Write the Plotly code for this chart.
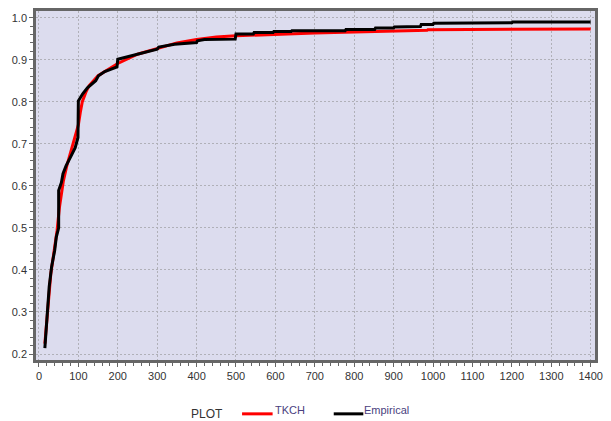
import plotly.graph_objects as go

# Empirical CDF (black, step-like)
emp_x = [15, 17.5, 21, 23, 26, 32, 40, 44, 50, 50, 57, 61, 69, 82, 92, 99, 100, 111, 123,
         144, 151, 167, 198, 200, 233, 260, 300, 304, 344, 400, 402, 420, 498, 500, 544,
         546, 594, 596, 640, 642, 777, 779, 852, 854, 900, 902, 968, 970, 1000, 1002, 1050,
         1052, 1200, 1202, 1400]
emp_y = [0.214, 0.25, 0.28, 0.328, 0.36, 0.407, 0.447, 0.478, 0.50, 0.589, 0.608, 0.629,
         0.648, 0.672, 0.691, 0.715, 0.802, 0.819, 0.833, 0.85, 0.862, 0.872, 0.883, 0.901,
         0.909, 0.917, 0.925, 0.93, 0.937, 0.941, 0.945, 0.948, 0.949, 0.961, 0.961,
         0.9645, 0.9645, 0.967, 0.967, 0.969, 0.969, 0.972, 0.972, 0.9755, 0.9755, 0.978,
         0.979, 0.984, 0.984, 0.987, 0.987, 0.988, 0.988, 0.990, 0.990]

# TKCH fitted CDF (red)
tkch_x = [15, 20, 25, 30, 40, 46, 52, 57, 62, 70, 82, 90, 100, 105, 110, 120, 127, 150,
          175, 200, 250, 300, 350, 400, 450, 500, 600, 700, 800, 900, 985, 987, 1177, 1179, 1400]
tkch_y = [0.225, 0.28, 0.34, 0.39, 0.455, 0.494, 0.549, 0.585, 0.612, 0.645, 0.684, 0.708,
          0.745, 0.775, 0.80, 0.825, 0.838, 0.862, 0.877, 0.891, 0.913, 0.926, 0.940, 0.948,
          0.954, 0.957, 0.961, 0.9635, 0.966, 0.968, 0.970, 0.9716, 0.9716, 0.973, 0.973]

x_ticks = list(range(0, 1401, 100))
y_ticks = [0.2, 0.3, 0.4, 0.5, 0.6, 0.7, 0.8, 0.9, 1.0]

W, H = 611, 421
ML, MR, MT, MB = 36, 8, 10, 61
PW, PH = W - ML - MR, H - MT - MB


def px(xp):
    return (xp - ML) / PW


def py(yp):
    return (H - MB - yp) / PH


fig = go.Figure()
fig.add_trace(go.Scatter(x=tkch_x, y=tkch_y, mode="lines", name="TKCH",
                         line=dict(color="#ff0000", width=3)))
fig.add_trace(go.Scatter(x=emp_x, y=emp_y, mode="lines", name="Empirical",
                         line=dict(color="#000000", width=3)))

axis_common = dict(
    showline=True, linecolor="#666666", linewidth=2.5, mirror=True,
    ticks="outside", ticklen=4, tickcolor="#666666", tickwidth=1,
    showgrid=True, gridcolor="#b0b0b8", griddash="2px,2px", gridwidth=1,
    zeroline=False,
    tickfont=dict(family="Liberation Sans, Arial, sans-serif", size=11, color="#333333"),
)

fig.update_xaxes(range=[-7.5, 1411], tickmode="array", tickvals=x_ticks,
                 ticktext=[str(v) for v in x_ticks],
                 minor=dict(dtick=20, tick0=0, ticks="outside", ticklen=3,
                            tickcolor="#666666", showgrid=False),
                 **axis_common)
fig.update_yaxes(range=[0.1858, 1.0159], tickmode="array", tickvals=y_ticks,
                 ticktext=[f"{v:.1f}" for v in y_ticks],
                 minor=dict(dtick=0.02, tick0=0.2, ticks="outside", ticklen=3,
                            tickcolor="#666666", showgrid=False),
                 **axis_common)

# custom legend below the plot
legend_font = dict(family="Liberation Sans, Arial, sans-serif", size=11, color="#4a3f80")
fig.add_shape(type="line", xref="paper", yref="paper", x0=px(245), x1=px(276),
              y0=py(414), y1=py(414), line=dict(color="#ff0000", width=3))
fig.add_shape(type="line", xref="paper", yref="paper", x0=px(338), x1=px(368),
              y0=py(414), y1=py(414), line=dict(color="#000000", width=3))
fig.add_annotation(xref="paper", yref="paper", x=px(209.5), y=py(414), text="PLOT",
                   showarrow=False, xanchor="center", yanchor="middle",
                   font=dict(family="Liberation Sans, Arial, sans-serif", size=12, color="#333333"))
fig.add_annotation(xref="paper", yref="paper", x=px(276), y=py(410), text="TKCH",
                   showarrow=False, xanchor="left", yanchor="middle", font=legend_font)
fig.add_annotation(xref="paper", yref="paper", x=px(366.5), y=py(410), text="Empirical",
                   showarrow=False, xanchor="left", yanchor="middle", font=legend_font)

fig.update_layout(
    width=W, height=H,
    margin=dict(l=ML, r=MR, t=MT, b=MB),
    paper_bgcolor="#ffffff", plot_bgcolor="#dcdcee",
    showlegend=False,
)

fig.write_html("out.html", config={"displayModeBar": False},
               post_script="document.body.style.margin='0';document.body.style.padding='0';")
